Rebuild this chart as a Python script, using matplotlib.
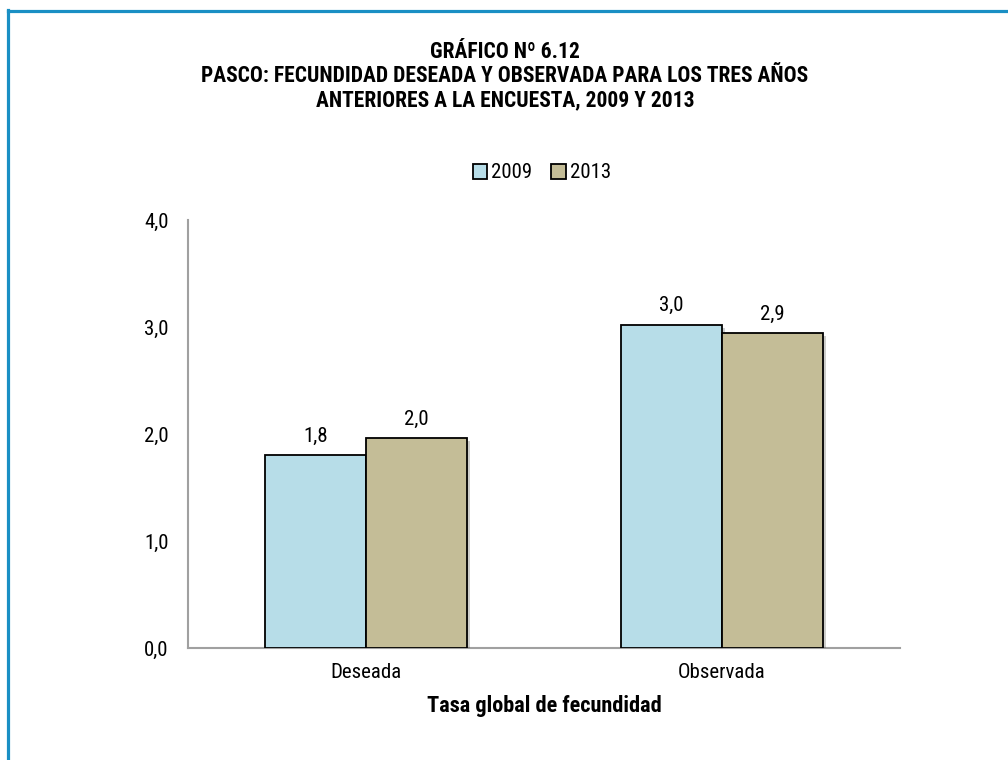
import matplotlib
matplotlib.use("Agg")
import matplotlib.pyplot as plt
import matplotlib.patheffects as pe
from matplotlib.lines import Line2D
import numpy as np

plt.rcParams['font.family'] = ['Roboto Condensed', 'DejaVu Sans']

# data
categories = ["Deseada", "Observada"]
years = ["2009", "2013"]
values_2009 = [1.80, 3.02]
values_2013 = [1.96, 2.94]
labels_2009 = ["1,8", "3,0"]
labels_2013 = ["2,0", "2,9"]
yticks = [0.0, 1.0, 2.0, 3.0, 4.0]
ytick_labels = ["0,0", "1,0", "2,0", "3,0", "4,0"]

colors = ["#b7dde8", "#c4bd97"]
axis_col = "#a0a0a0"
fs = 15

fig = plt.figure(figsize=(10.08, 7.6), dpi=100)
ax = fig.add_axes([188/1008, 1 - 648/760, 712/1008, 428/760])

x = np.arange(len(categories)) + 0.5
w = 0.285
shadow = [pe.SimplePatchShadow(offset=(2, -2), alpha=0.25), pe.Normal()]
b1 = ax.bar(x - w/2, values_2009, w, color=colors[0], edgecolor="black", linewidth=1.3,
            label=years[0], path_effects=shadow, zorder=3)
b2 = ax.bar(x + w/2, values_2013, w, color=colors[1], edgecolor="black", linewidth=1.3,
            label=years[1], path_effects=shadow, zorder=3)

for bars, labs in [(b1, labels_2009), (b2, labels_2013)]:
    for r, t in zip(bars, labs):
        ax.annotate(t, (r.get_x() + r.get_width()/2, r.get_height()),
                    xytext=(0, 7), textcoords="offset points",
                    ha="center", va="bottom", fontsize=fs)

ax.set_xlim(0, 2)
ax.set_ylim(0, 4)
ax.set_yticks(yticks)
ax.set_yticklabels(ytick_labels, fontsize=fs)
ax.set_xticks(x)
ax.set_xticklabels(categories, fontsize=fs)
ax.tick_params(axis="both", length=0, pad=11)
ax.tick_params(axis="y", pad=14)
for s in ["top", "right"]:
    ax.spines[s].set_visible(False)
for s in ["left", "bottom"]:
    ax.spines[s].set_color(axis_col)
    ax.spines[s].set_linewidth(1.5)

ax.set_xlabel("Tasa global de fecundidad", fontsize=16, fontweight="bold", labelpad=9)

fig.text(505/1008, 1 - 52/760, "GRÁFICO Nº 6.12", ha="center", va="center",
         fontsize=15.5, fontweight="bold")
fig.text(505/1008, 1 - 76/760, "PASCO: FECUNDIDAD DESEADA Y OBSERVADA PARA LOS TRES AÑOS",
         ha="center", va="center", fontsize=15.5, fontweight="bold")
fig.text(505/1008, 1 - 100/760, "ANTERIORES A LA ENCUESTA, 2009 Y 2013",
         ha="center", va="center", fontsize=15.5, fontweight="bold")

leg = fig.legend(handles=[b1, b2], labels=years, loc="center", ncol=2,
                 bbox_to_anchor=(542/1008, 1 - 173/760), frameon=False,
                 fontsize=fs, handlelength=0.7, handleheight=0.7,
                 handletextpad=0.2, columnspacing=0.9)
for h in leg.legend_handles:
    h.set_path_effects([])

# frame border (left and top)
fig.add_artist(Line2D([7.5/1008, 7.5/1008], [0, 1 - 10/760], color="#1a8fc4", linewidth=2.3,
                      transform=fig.transFigure))
fig.add_artist(Line2D([7.5/1008, 1], [1 - 10.5/760, 1 - 10.5/760], color="#1a8fc4", linewidth=2.3,
                      transform=fig.transFigure))

fig.savefig("out.png", dpi=100)
